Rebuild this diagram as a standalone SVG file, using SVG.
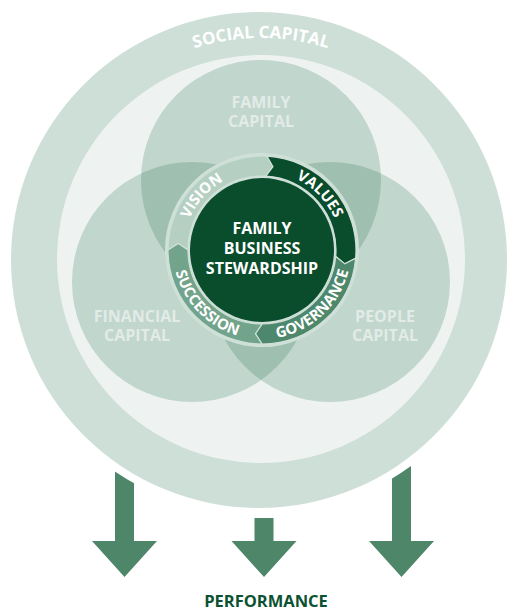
<svg xmlns="http://www.w3.org/2000/svg" width="508" height="612" viewBox="0 0 508 612">
  <style>
    .t { font-family: "Open Sans", "Liberation Sans", sans-serif; font-weight: 700; }
    .venn { fill: #c1d6cd; }
    .ovl { fill: #9fc0b1; }
    .vlabel { fill: #e2ebe7; font-size: 16px; text-anchor: middle; }
    .ring { font-size: 15px; fill: #ffffff; }
    .seg { stroke: #cfe0d8; stroke-width: 1.2; }
    .arrow { fill: #4e8669; }
  </style>
  <defs>
    <clipPath id="clipFamily"><circle cx="261" cy="180" r="120"/></clipPath>
    <clipPath id="clipFinancial"><circle cx="192" cy="282" r="120"/></clipPath>
    <path id="arcSocial" d="M68.74,149 A222,222 0 0 1 453.26,149"/>
    <path id="arcVision" d="M199.75,298.64 A79,79 0 0 1 303.86,183.01"/>
    <path id="arcValues" d="M217.82,184.51 A79,79 0 0 1 325.91,296.44"/>
    <path id="arcGov" d="M208.44,321.08 A89,89 0 0 0 336.64,201.53"/>
    <path id="arcSucc" d="M190,197.69 A89,89 0 0 0 311.77,323.78"/>
  </defs>
  <rect x="0" y="0" width="508" height="612" fill="#ffffff"/>

  <g id="connectors">
    <path class="arrow" d="M115,440 L134,440 L134,541 L157,541 L124.5,577 L92,541 L115,541 Z"/>
    <path class="arrow" d="M254.5,518 L273.5,518 L273.5,541 L296.5,541 L264,577 L231.5,541 L254.5,541 Z"/>
    <path class="arrow" d="M392,440 L411,440 L411,541 L434,541 L401.5,577 L369,541 L392,541 Z"/>
  </g>

  <g id="social-capital">
    <circle cx="259" cy="260" r="256" fill="#ffffff"/>
    <circle cx="259" cy="260" r="248" fill="#cedfd8"/>
    <circle cx="261" cy="259" r="204" fill="#eef3f1"/>
    <text class="t" font-size="17" fill="#ffffff"><textPath href="#arcSocial" startOffset="50%" text-anchor="middle">SOCIAL CAPITAL</textPath></text>
  </g>

  <g id="family-capital">
    <circle class="venn" cx="261" cy="180" r="120"/>
  </g>
  <g id="financial-capital">
    <circle class="venn" cx="192" cy="282" r="120"/>
  </g>
  <g id="people-capital">
    <circle class="venn" cx="330" cy="282" r="120"/>
  </g>
  <g id="overlaps">
    <circle class="ovl" cx="192" cy="282" r="120" clip-path="url(#clipFamily)"/>
    <circle class="ovl" cx="330" cy="282" r="120" clip-path="url(#clipFamily)"/>
    <circle class="ovl" cx="330" cy="282" r="120" clip-path="url(#clipFinancial)"/>
  </g>
  <g id="venn-labels">
    <text class="t vlabel" x="261" y="108">FAMILY<tspan x="261" dy="19">CAPITAL</tspan></text>
    <text class="t vlabel" x="137" y="322">FINANCIAL<tspan x="137" dy="19">CAPITAL</tspan></text>
    <text class="t vlabel" x="385" y="322">PEOPLE<tspan x="385" dy="19">CAPITAL</tspan></text>
  </g>

  <g id="stewardship-ring">
    <circle cx="262" cy="250" r="97" fill="#cfe0d8"/>
    <g id="vision">
      <path class="seg" fill="#b5cfc3" d="M168,250 A94,94 0 0 1 266.92,156.13 L272.96,166.72 L265.87,176.10 A74,74 0 0 0 188,250 L178.26,243.41 Z"/>
      <text class="t ring"><textPath href="#arcVision" startOffset="50%" text-anchor="middle">VISION</textPath></text>
    </g>
    <g id="values">
      <path class="seg" fill="#0a4d2d" d="M266.92,156.13 A94,94 0 0 1 355.64,258.20 L344.85,263.86 L335.72,256.45 A74,74 0 0 0 265.87,176.10 L272.96,166.72 Z"/>
      <text class="t ring"><textPath href="#arcValues" startOffset="50%" text-anchor="middle">VALUES</textPath></text>
    </g>
    <g id="governance">
      <path class="seg" fill="#4d886c" d="M355.64,258.20 A94,94 0 0 1 262,344 L255.41,333.74 L262,324 A74,74 0 0 0 335.72,256.45 L344.85,263.86 Z"/>
      <text class="t ring"><textPath href="#arcGov" startOffset="50%" text-anchor="middle">GOVERNANCE</textPath></text>
    </g>
    <g id="succession">
      <path class="seg" fill="#72a38b" d="M262,344 A94,94 0 0 1 168,250 L178.26,243.41 L188,250 A74,74 0 0 0 262,324 L255.41,333.74 Z"/>
      <text class="t ring"><textPath href="#arcSucc" startOffset="50%" text-anchor="middle">SUCCESSION</textPath></text>
    </g>
  </g>

  <g id="family-business-stewardship">
    <circle cx="262" cy="250" r="72" fill="#0a4d2d"/>
    <text class="t" font-size="16" fill="#ffffff" text-anchor="middle" x="262" y="234">FAMILY<tspan x="262" dy="20">BUSINESS</tspan><tspan x="262" dy="20">STEWARDSHIP</tspan></text>
  </g>

  <g id="performance">
    <text class="t" font-size="16.5" fill="#0b5233" text-anchor="middle" x="266" y="607">PERFORMANCE</text>
  </g>
</svg>
